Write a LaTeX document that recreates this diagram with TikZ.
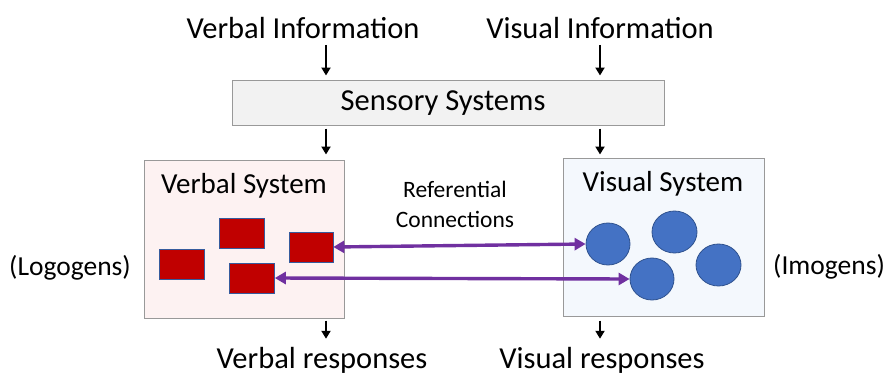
\documentclass[tikz,border=0pt]{standalone}
\usepackage{fontspec}
\setmainfont{Carlito}
\usepackage{tikz}
\usetikzlibrary{positioning,arrows.meta,shapes.geometric}
\definecolor{logored}{HTML}{C00000}
\definecolor{imoblue}{HTML}{4472C4}
\definecolor{imoedge}{HTML}{2F528F}
\definecolor{refpurple}{HTML}{7030A0}
\definecolor{verbfill}{HTML}{FDF2F2}
\definecolor{visfill}{HTML}{F4F8FD}
\definecolor{sensfill}{HTML}{F2F2F2}

\begin{document}
\begin{tikzpicture}
 		[x=1pt, y=-1pt,
 		every node/.style={inner sep=0pt, align=center},
 		bigtext/.style={font=\fontsize{30.5}{36}\selectfont},
 		systext/.style={font=\fontsize{29}{34}\selectfont},
 		sidetext/.style={font=\fontsize{27.5}{33}\selectfont},
 		sysbox/.style={rectangle, draw=black!40, line width=1pt},
 		logogen/.style={rectangle, fill=logored, draw=imoblue!80!black, line width=0.6pt,
 			minimum width=45pt, minimum height=30pt},
 		imogen/.style={ellipse, fill=imoblue, draw=imoedge, line width=0.8pt,
 			minimum width=44pt, minimum height=42pt},
 		infoarrow/.style={draw=black, line width=2.2pt, -{Triangle[length=8pt,width=9pt]}},
 		refarrow/.style={draw=refpurple, line width=3.4pt,
 			{Triangle[length=11pt,width=12pt]}-{Triangle[length=11pt,width=12pt]}},
 		]
 		\useasboundingbox (0,0) rectangle (888,378);
 		\coordinate (vcol) at (326,0);
 		\coordinate (ocol) at (600,0);
 		
 		% inputs
 		\node[bigtext] (verbinfo) at (303,28) {Verbal Information};
 		\node[bigtext] (visinfo) at (600,28) {Visual Information};
 		
 		\node[sysbox, fill=sensfill, minimum width=432pt, minimum height=45pt] (sensory) at (448,102.5) {};
 		\node[bigtext] (senslabel) at (443,103) {Sensory Systems};
 		
 		% the two systems
 		\node[sysbox, fill=verbfill, minimum width=200pt, minimum height=158pt] (verbal) at (244,239) {};
 		\node[sysbox, fill=visfill, minimum width=201pt, minimum height=158pt] (visual) at (663.5,237) {};
 		\node[systext] (verbtitle) at (244,186) {Verbal System};
 		\node[systext] (vistitle) at (663,184) {Visual System};
 		
 		\node[font=\fontsize{23.5}{30}\selectfont] (refer) at (455,204) {Referential\\Connections};
 		
 		\node[logogen] (r1) at (182,264) {};
 		\node[logogen] (r2) at (241.5,233) {};
 		\node[logogen, minimum width=44pt] (r3) at (311,247) {};
 		\node[logogen] (r4) at (252,278) {};
 		
 		\node[imogen] (c1) at (608,244) {};
 		\node[imogen, minimum width=45pt] (c2) at (674.5,232) {};
 		\node[imogen, minimum width=45pt] (c3) at (718.5,265) {};
 		\node[imogen] (c4) at (652,279) {};
 		
 		\node[sidetext] (logogens) at (70,268) {(Logogens)};
 		\node[sidetext] (imogens) at (829,267) {(Imogens)};
 		
 		% outputs
 		\node[bigtext] (verbresp) at (322,360) {Verbal responses};
 		\node[bigtext] (visresp) at (602,360) {Visual responses};
 		
 		\draw[infoarrow, shorten <=6pt, shorten >=4pt] (verbinfo.south -| vcol) -- (sensory.north -| vcol);
 		\draw[infoarrow, shorten <=6pt, shorten >=4pt] (visinfo.south -| ocol) -- (sensory.north -| ocol);
 		\draw[infoarrow, shorten <=3pt, shorten >=5pt] (sensory.south -| vcol) -- (verbal.north -| vcol);
 		\draw[infoarrow, shorten <=3pt, shorten >=3pt] (sensory.south -| ocol) -- (visual.north -| ocol);
 		\draw[infoarrow, shorten <=2pt, shorten >=8pt] (verbal.south -| vcol) -- (verbresp.north -| vcol);
 		\draw[infoarrow, shorten <=4pt, shorten >=8pt] (visual.south -| ocol) -- (visresp.north -| ocol);
 		
 		\draw[refarrow] (r3.east) -- (c1.west);
 		\draw[refarrow] (r4.east) -- (c4.west);
 		
 	\end{tikzpicture}
\end{document}
